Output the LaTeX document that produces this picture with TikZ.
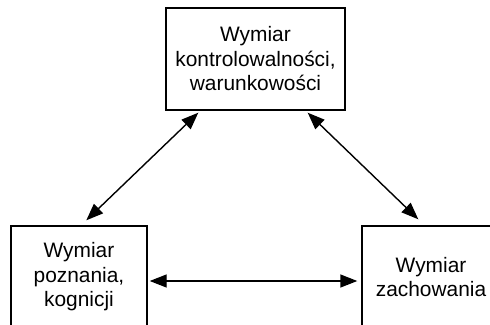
\documentclass[tikz,border=0pt]{standalone}
\usepackage{fontspec}
\setmainfont{Liberation Sans}
\usetikzlibrary{arrows.meta}
\begin{document}
\begin{tikzpicture}[x=1pt,y=-1pt,
  dimbox/.style={draw, line width=1.4pt, inner sep=0pt, align=center,
    font=\fontsize{20.9}{24.5}\selectfont, minimum height=102pt},
  link/.style={line width=1.4pt, {Triangle[length=17pt,width=13pt]}-{Triangle[length=17pt,width=13pt]}}]
\clip (0,0) rectangle (490,324);
\fill[white] (0,0) rectangle (490,324);
\node[dimbox, minimum width=179pt] (top) at (255.5,59) {Wymiar\\kontrolowalności,\\warunkowości};
\node[dimbox, minimum width=136pt] (left) at (79,277) {Wymiar\\poznania,\\kognicji};
\node[dimbox, minimum width=138pt] (right) at (431,277) {Wymiar\\zachowania};
\draw[link] ([xshift=33pt,yshift=-2pt]top.south west) -- ([xshift=76pt,yshift=5pt]left.north west);
\draw[link] ([xshift=-38pt,yshift=-2pt]top.south east) -- ([xshift=57pt,yshift=6pt]right.north west);
\draw[link] ([xshift=2pt,yshift=-4pt]left.east) -- ([xshift=-4pt,yshift=-4pt]right.west);
\end{tikzpicture}
\end{document}
